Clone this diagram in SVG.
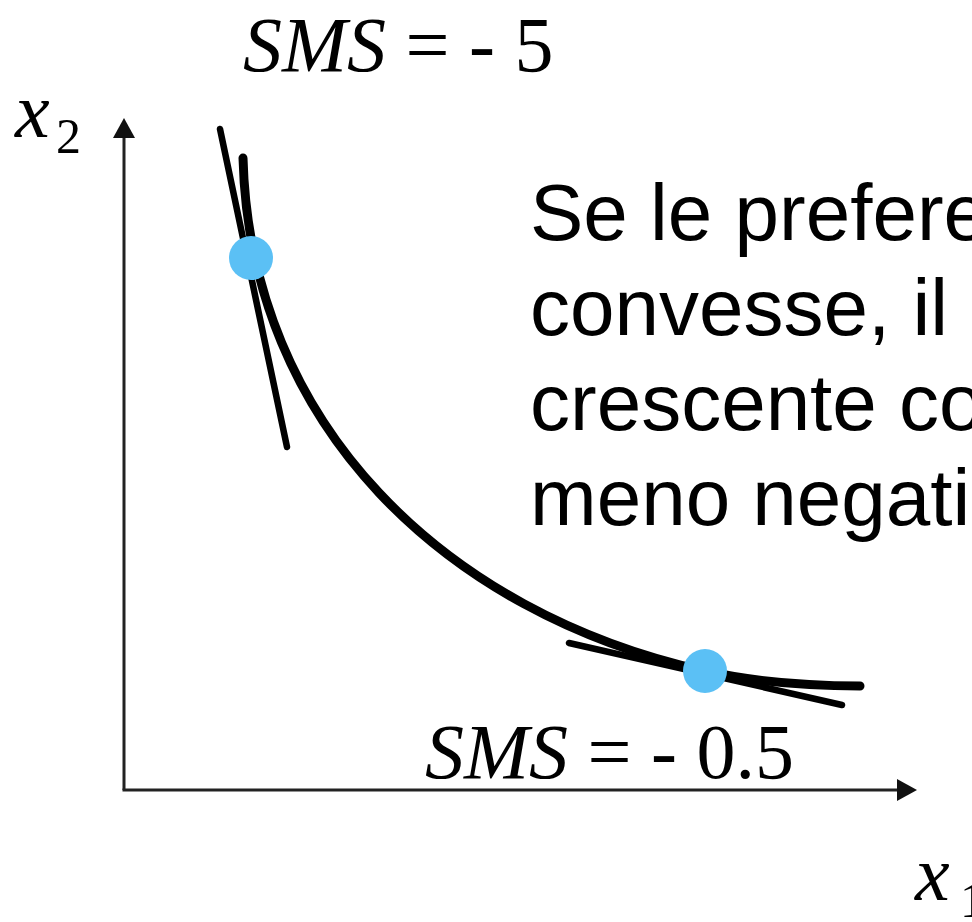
<svg xmlns="http://www.w3.org/2000/svg" width="972" height="922" viewBox="0 0 972 922">
<style>
.serif{font-family:"Liberation Serif","Times New Roman",serif;fill:#000}
.it{font-style:italic}
.sans{font-family:"Liberation Sans",Arial,sans-serif;font-size:80px;fill:#000}
.axis{stroke:#222;stroke-width:3;fill:none}
.tan{stroke:#000;stroke-width:6.5;stroke-linecap:round;fill:none}
.curve{stroke:#000;stroke-width:9;stroke-linecap:round;fill:none}
.dot{fill:#5bc0f5}
</style>
<defs>
<marker id="ah" viewBox="0 0 20 22" refX="0" refY="11" markerWidth="20" markerHeight="22" markerUnits="userSpaceOnUse" orient="auto">
<path d="M0,0 L20,11 L0,22 Z" fill="#111"/>
</marker>
</defs>
<rect width="972" height="922" fill="#fff"/>
<g id="connectors">
<line class="axis" x1="124" y1="790" x2="124" y2="138" marker-end="url(#ah)"/>
<line class="axis" x1="122.5" y1="790" x2="897" y2="790" marker-end="url(#ah)"/>
<line class="tan" x1="220" y1="129" x2="287" y2="447"/>
<line class="tan" x1="569" y1="643" x2="842" y2="705"/>
<path class="curve" d="M243,158 C250,425 445,613 705,671 C755,682 810,686 860,686"/>
</g>
<g id="point-a">
<circle class="dot" cx="251" cy="258" r="22"/>
</g>
<g id="point-b">
<circle class="dot" cx="705" cy="671" r="22"/>
</g>
<g id="label-sms-top">
<text class="serif" x="243" y="71" font-size="78"><tspan class="it">SMS</tspan> = - 5</text>
</g>
<g id="label-sms-bottom">
<text class="serif" x="425" y="778" font-size="78"><tspan class="it">SMS</tspan> = - 0.5</text>
</g>
<g id="label-x2">
<text class="serif it" x="15" y="137" font-size="78">x</text>
<text class="serif" x="56" y="153" font-size="50">2</text>
</g>
<g id="label-x1">
<text class="serif it" x="915" y="900" font-size="78">x</text>
<text class="serif" x="960" y="917" font-size="50">1</text>
</g>
<g id="caption">
<text class="sans" x="530" y="240">Se le prefere</text>
<text class="sans" x="530" y="335">convesse, il</text>
<text class="sans" x="530" y="430">crescente co</text>
<text class="sans" x="530" y="525">meno negati</text>
</g>
</svg>
